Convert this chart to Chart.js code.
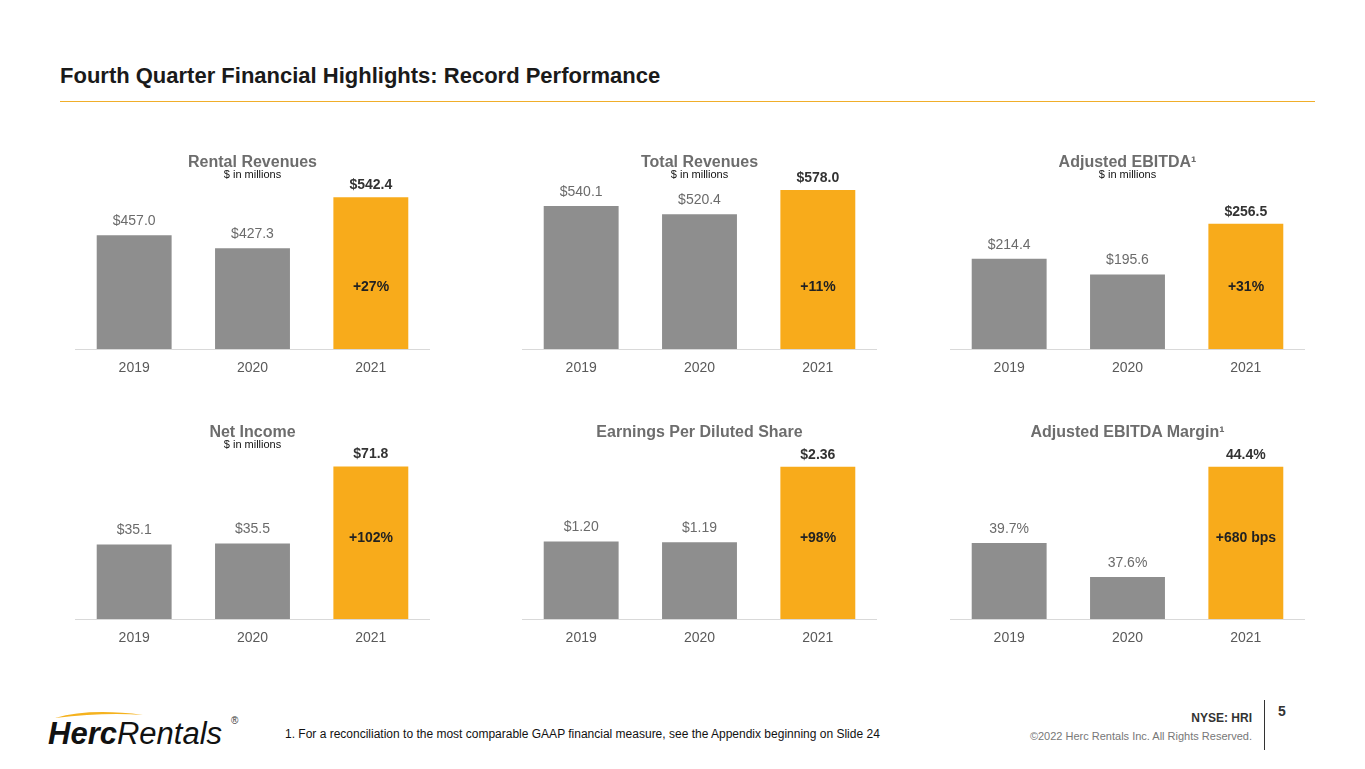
<!DOCTYPE html>
<html><head><meta charset="utf-8">
<script src="https://cdn.jsdelivr.net/npm/chart.js@4"></script>
<style>
body{margin:0;width:1365px;height:769px;background:#fff;font-family:"Liberation Sans",Arial,sans-serif;position:relative;overflow:hidden}
.a{position:absolute;white-space:nowrap}
.t{font-weight:bold;font-size:16px;color:#6d6d6d;text-align:center;width:355px}
.s{font-size:11px;color:#111;text-align:center;width:355px}
.p{font-weight:bold;font-size:14px;color:#222;text-align:center;width:100px}
canvas{position:absolute}
</style></head><body>
<div class="a" style="left:60px;top:63px;font-size:22px;font-weight:bold;color:#1a1a1a">Fourth Quarter Financial Highlights: Record Performance</div>
<div class="a" style="left:60px;top:101px;width:1255px;height:0;border-top:1px solid #f0ae2a"></div>
<div id="root"></div>
<svg class="a" style="left:45px;top:704px" width="210" height="50">
<path d="M10 14 Q45 4 98 11 Q60 8 10 14Z" fill="#f5b21e"/>
<text x="3" y="40" font-family="Liberation Sans" font-style="italic" font-weight="bold" font-size="31" fill="#111">Herc<tspan font-weight="normal">Rentals</tspan></text>
<text x="186" y="20" font-size="10" fill="#333">®</text>
</svg>
<div class="a" style="left:285px;top:727px;font-size:12px;color:#111">1. For a reconciliation to the most comparable GAAP financial measure, see the Appendix beginning on Slide 24</div>
<div class="a" style="right:113px;top:711px;font-size:12px;font-weight:bold;color:#333">NYSE: HRI</div>
<div class="a" style="right:113px;top:730px;font-size:11px;color:#777">©2022 Herc Rentals Inc.  All Rights Reserved.</div>
<div class="a" style="left:1264px;top:700px;width:1px;height:50px;background:#333"></div>
<div class="a" style="left:1278px;top:703px;font-size:14px;font-weight:bold;color:#333">5</div>
<script>
const years=["2019","2020","2021"];
const titles=["Rental Revenues","Total Revenues","Adjusted EBITDA¹","Net Income","Earnings Per Diluted Share","Adjusted EBITDA Margin¹"];
const subs=["$ in millions","$ in millions","$ in millions","$ in millions","",""];
const rentalRevenues=[457.0,427.3,542.4];
const totalRevenues=[540.1,520.4,578.0];
const adjEbitda=[214.4,195.6,256.5];
const netIncome=[35.1,35.5,71.8];
const eps=[1.20,1.19,2.36];
const margin=[39.7,37.6,44.4];
const growth=["+27%","+11%","+31%","+102%","+98%","+680 bps"];
const series=[rentalRevenues,totalRevenues,adjEbitda,netIncome,eps,margin];
const fmt=[v=>"$"+v.toFixed(1),v=>"$"+v.toFixed(1),v=>"$"+v.toFixed(1),v=>"$"+v.toFixed(1),v=>"$"+v.toFixed(2),v=>v.toFixed(1)+"%"];
const ranges=[[201,626],[201,649],[106,333],[0,89],[0,2.93],[35,46.67]];
const lefts=[75,522,950];const tops=[160,430];const pctY=[278,529];
const root=document.getElementById('root');
const lbl={id:'lbl',afterDatasetsDraw(c){const x=c.ctx;const m=c.getDatasetMeta(0);const f=fmt[+c.canvas.dataset.k];
 m.data.forEach((b,i)=>{x.save();x.font=(i==2?'bold ':'')+'14px "Liberation Sans",Arial';x.fillStyle=i==2?'#333':'#6b6b6b';x.textAlign='center';x.textBaseline='bottom';x.fillText(f(c.data.datasets[0].data[i]),b.x,b.y-(i==2?5:7));x.restore();});}};
series.forEach((d,k)=>{
 const L=lefts[k%3],T=tops[Math.floor(k/3)];
 root.insertAdjacentHTML('beforeend',`<div class="a t" style="left:${L}px;top:${T-7}px">${titles[k]}</div><div class="a s" style="left:${L}px;top:${T+8}px">${subs[k]}</div>`);
 const cv=document.createElement('canvas');cv.dataset.k=k;cv.style.left=L+'px';cv.style.top=T+'px';cv.style.width='355px';cv.style.height='219px';cv.width=355;cv.height=219;root.insertBefore(cv,root.firstChild);
 new Chart(cv,{type:'bar',plugins:[lbl],data:{labels:years,datasets:[{data:d,backgroundColor:['#8e8e8e','#8e8e8e','#f8ab1b'],barPercentage:0.633,categoryPercentage:1}]},
 options:{responsive:false,animation:false,layout:{padding:0},plugins:{legend:{display:false},tooltip:{enabled:false}},
 scales:{y:{display:false,min:ranges[k][0],max:ranges[k][1]},x:{grid:{display:false},border:{color:'#d9d9d9'},ticks:{color:'#595959',font:{size:14,family:'"Liberation Sans",Arial'},padding:3},afterFit:s=>{s.height=30}}}}});
 root.insertAdjacentHTML('beforeend',`<div class="a p" style="left:${L+246}px;top:${pctY[k>2?1:0]}px">${growth[k]}</div>`);
});
</script>
</body></html>
